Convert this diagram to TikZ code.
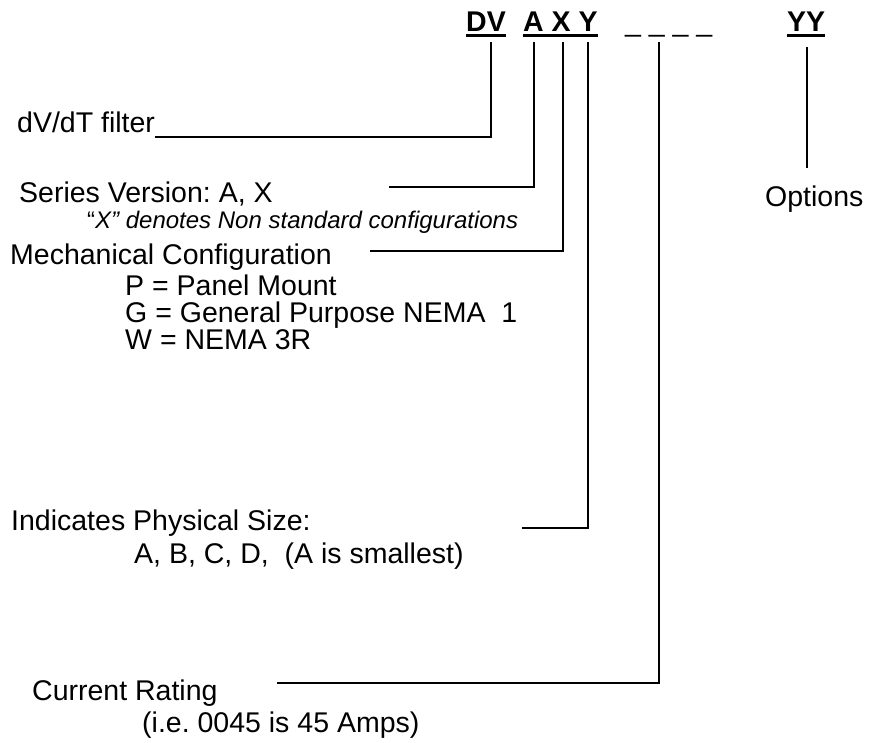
\documentclass[tikz,border=0pt]{standalone}
\usepackage{fontspec}
\setmainfont{Liberation Sans}
\usetikzlibrary{calc}
\frenchspacing
\begin{document}
\begin{tikzpicture}[x=1pt,y=-1pt,
  lbl/.style={anchor=base west, inner sep=0pt, font=\fontsize{28.5}{34}\selectfont},
  code/.style={anchor=base west, inner sep=0pt, font=\fontsize{28.5}{34}\selectfont\bfseries},
  note/.style={anchor=base west, inner sep=0pt, font=\fontsize{24}{29}\selectfont\itshape},
  conn/.style={draw=black, line width=1.5pt, line join=miter},
  uline/.style={draw=black, line width=3pt}]
\useasboundingbox (0,0) rectangle (870,742);
% code letters
\node[code] (dv) at (466,31) {DV};
\node[code] (axy) at (523,31) {A X Y};
\node[lbl] (dash) at (625,31) {\_ \_ \_ \_};
\node[code] (yy) at (787,31) {YY};
\draw[uline] ($(dv.base west)+(0,4)$) -- ($(dv.base east)+(0,4)$);
\draw[uline] ($(axy.base west)+(0,4)$) -- ($(axy.base east)+(0,4)$);
\draw[uline] ($(yy.base west)+(0,4)$) -- ($(yy.base east)+(0,4)$);
% labels
\node[lbl] (filt) at (17,132) {dV/dT filter};
\node[lbl] (ser) at (19,202) {Series Version: A, X};
\node[note] (noteX) at (87,228) {{\upshape “}X” denotes Non standard configurations};
\node[lbl] (mech) at (10,264) {Mechanical Configuration};
\node[lbl] (pm) at (125,295) {P = Panel Mount};
\node[lbl] (gp) at (125,322) {G = General Purpose NEMA\ \ 1};
\node[lbl] (wn) at (125,349) {W = NEMA 3R};
\node[lbl] (phys) at (11,530) {Indicates Physical Size:};
\node[lbl] (abcd) at (134,563) {A, B, C, D,\ \ (A is smallest)};
\node[lbl] (cur) at (32,700) {Current Rating};
\node[lbl] (ie) at (142,732) {(i.e. 0045 is 45 Amps)};
\node[lbl] (opt) at (765,206) {Options};
% connector ends
\coordinate (tDV) at (491,42);
\coordinate (tA) at (534,42);
\coordinate (tX) at (563,42);
\coordinate (tY) at (588,42);
\coordinate (tD) at (659,42);
\coordinate (tYY) at (807,47);
\coordinate (fEnd) at (155,137);
\coordinate (sEnd) at (389,187);
\coordinate (mEnd) at (370,251);
\coordinate (pEnd) at (522,528);
\coordinate (cEnd) at (277,683);
\coordinate (oEnd) at (807,168);
% connectors
\draw[conn] (tDV) |- (fEnd);
\draw[conn] (tA) |- (sEnd);
\draw[conn] (tX) |- (mEnd);
\draw[conn] (tY) |- (pEnd);
\draw[conn] (tD) |- (cEnd);
\draw[conn] (tYY) -- (oEnd);
\end{tikzpicture}
\end{document}
